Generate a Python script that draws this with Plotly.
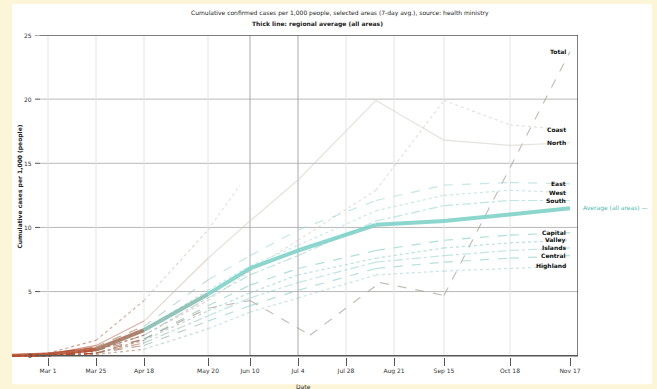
import plotly.graph_objects as go

# ---- data -------------------------------------------------------------
days = [0, 18, 42, 66, 98, 119, 143, 182, 216, 249, 279]

tick_days = [18, 42, 66, 98, 119, 143, 167, 191, 216, 249, 279]
tick_text = ["Mar 1", "Mar 25", "Apr 18", "May 20", "Jun 10", "Jul 4",
             "Jul 28", "Aug 21", "Sep 15", "Oct 18", "Nov 17"]

y_ticks = [0, 5, 10, 15, 20, 25]

avg_name = "Average (all areas) &#8212;"
avg_vals = [0, 0.1, 0.5, 2.0, 4.8, 6.8, 8.2, 10.2, 10.5, 11.0, 11.5]

total_days = [0, 18, 42, 66, 98, 119, 149, 184, 216, 279]
total_vals = [0, 0, 0.2, 1.3, 3.7, 4.3, 1.6, 5.7, 4.7, 23.7]

steep_days = [0, 18, 42, 66, 98, 114]
steep_vals = [0, 0.2, 1.2, 4.3, 9.8, 13.3]

north_vals = [0, 0.1, 0.8, 2.7, 7.6, 10.5, 13.7, 19.9, 16.8, 16.4, 16.6]
coast_vals = [0, 0, 0.4, 1.6, 4.3, 6.6, 9.0, 12.9, 19.9, 18.0, 17.6]
east_vals = [0, 0.1, 0.7, 2.3, 5.9, 7.8, 9.8, 12.1, 13.3, 13.5, 13.4]
west_vals = [0, 0, 0.5, 2.0, 5.1, 7.0, 8.6, 11.3, 12.5, 12.9, 12.7]
south_vals = [0, 0, 0.4, 1.6, 4.5, 6.3, 7.8, 10.5, 11.7, 12.1, 12.1]
capital_vals = [0, 0, 0.4, 1.3, 3.9, 5.5, 6.8, 8.2, 9.0, 9.4, 9.6]
valley_vals = [0, 0, 0.2, 1.2, 3.5, 4.9, 6.3, 7.6, 8.4, 8.8, 9.0]
islands_vals = [0, 0, 0.2, 1.0, 3.1, 4.5, 5.7, 7.3, 7.8, 8.2, 8.4]
central_vals = [0, 0, 0.2, 0.8, 2.7, 3.9, 5.1, 6.8, 7.3, 7.6, 7.8]
highland_vals = [0, 0, 0.1, 0.5, 2.1, 3.4, 4.5, 6.3, 6.6, 6.8, 7.0]

# (label, x, y, end colour, dash, opacity)
series = [
    ("Total", total_days, total_vals, "#a9a49c", "dash", 0.7),
    (None, steep_days, steep_vals, "#d6cdc2", "dot", 0.55),
    ("North", days, north_vals, "#d2cdc4", "solid", 0.55),
    ("Coast", days, coast_vals, "#d6d0c6", "dot", 0.6),
    ("East", days, east_vals, "#9fdad3", "dash", 0.6),
    ("West", days, west_vals, "#a6dcd5", "dot", 0.6),
    ("South", days, south_vals, "#96d6ce", "dashdot", 0.6),
    ("Capital", days, capital_vals, "#86cfc6", "dash", 0.65),
    ("Valley", days, valley_vals, "#92d3cb", "dot", 0.65),
    ("Islands", days, islands_vals, "#9ad6cf", "dashdot", 0.6),
    ("Central", days, central_vals, "#8ed1c9", "dash", 0.65),
    ("Highland", days, highland_vals, "#a2d8d1", "dot", 0.6),
]

EARLY = (176, 78, 48)  # brownish start colour


def hex_rgb(h):
    h = h.lstrip("#")
    return tuple(int(h[i:i + 2], 16) for i in (0, 2, 4))


def blend(c_end, d):
    t = min(max((d - 40) / 50.0, 0.0), 1.0)
    r, g, b = (round(a + (e - a) * t) for a, e in zip(EARLY, hex_rgb(c_end)))
    return f"rgb({r},{g},{b})"


fig = go.Figure()


def add_gradient_line(xs, ys, end_col, dash, width, opacity):
    for i in range(len(xs) - 1):
        mid = (xs[i] + xs[i + 1]) / 2
        fig.add_trace(go.Scatter(
            x=[xs[i], xs[i + 1]], y=[ys[i], ys[i + 1]], mode="lines",
            line=dict(color=blend(end_col, mid), width=width, dash=dash),
            opacity=opacity, showlegend=False, hoverinfo="skip"))


for name, xs, ys, col, dash, op in series:
    add_gradient_line(xs, ys, col, dash, 1.2, op)

add_gradient_line(days, avg_vals, "#78d0c6", "solid", 4, 0.85)

# ---- frame, grid and ticks --------------------------------------------
X0, X1 = 14, 283
shapes = [dict(type="rect", xref="paper", yref="paper", x0=0, x1=1.131,
               y0=-0.085, y1=1.096, fillcolor="white", line_width=0,
               layer="below")]
for v in y_ticks[1:-1]:
    shapes.append(dict(type="line", x0=X0, x1=X1, y0=v, y1=v,
                       line=dict(color="#b8b8b8", width=1), layer="below"))
for d in tick_days[:-1]:
    dark = d in (119, 143)
    shapes.append(dict(type="line", x0=d, x1=d, y0=0, y1=25,
                       line=dict(color="#a8a8a8" if dark else "#e4e4e4",
                                 width=1), layer="below"))
for v in y_ticks:
    shapes.append(dict(type="line", x0=11.5, x1=X0, y0=v, y1=v,
                       line=dict(color="#555", width=1)))
shapes += [
    dict(type="line", x0=X0, x1=X1, y0=25, y1=25, line=dict(color="#555", width=1.5)),
    dict(type="line", x0=X0, x1=X1, y0=0, y1=0, line=dict(color="#555", width=1.5)),
    dict(type="line", x0=X1, x1=X1, y0=0, y1=25, line=dict(color="#555", width=1.5)),
]

annotations = []
for v in y_ticks:
    annotations.append(dict(x=11, y=v, xref="x", yref="y", text=str(v),
                            showarrow=False, xanchor="right",
                            font=dict(size=6, color="#333")))

for name, xs, ys, col, dash, op in series:
    if name:
        annotations.append(dict(x=xs[-1], y=ys[-1], xref="x", yref="y",
                                text=f"<b>{name}</b>", showarrow=False,
                                xanchor="right", xshift=-2,
                                font=dict(size=6, color="#111")))
annotations.append(dict(x=X1, y=avg_vals[-1], xref="x", yref="y",
                        text=avg_name, showarrow=False, xanchor="left",
                        xshift=3, font=dict(size=6, color="#4fb8ad")))

annotations += [
    dict(x=0.58, y=1.0, xref="paper", yref="paper", yanchor="bottom", yshift=16,
         text="Cumulative confirmed cases per 1,000 people, selected areas (7-day avg.), source: health ministry",
         showarrow=False, font=dict(size=6, color="#222")),
    dict(x=0.54, y=1.0, xref="paper", yref="paper", yanchor="bottom", yshift=5,
         text="<b>Thick line: regional average (all areas)</b>",
         showarrow=False, font=dict(size=6, color="#222")),
    dict(x=0.004, y=0.53, xref="paper", yref="paper", textangle=-90,
         text="<b>Cumulative cases per 1,000 (people)</b>", showarrow=False,
         font=dict(size=6, color="#222")),
    dict(x=0.515, y=0, xref="paper", yref="paper", yanchor="top", yshift=-24,
         text="Date", showarrow=False, font=dict(size=6, color="#222")),
]

fig.update_layout(
    width=657, height=389,
    margin=dict(l=12, r=79, t=35, b=32),
    paper_bgcolor="#fdf5d8", plot_bgcolor="white",
    font=dict(family="DejaVu Sans", size=6, color="#333"),
    shapes=shapes, annotations=annotations, showlegend=False,
    xaxis=dict(range=[0, 283], tickvals=tick_days, ticktext=tick_text,
               ticks="outside", ticklen=8, tickcolor="#555",
               showgrid=False, zeroline=False, showline=False,
               tickfont=dict(size=6, color="#333")),
    yaxis=dict(range=[-0.1, 25], showgrid=False, zeroline=False,
               showticklabels=False, showline=False),
)

fig.write_html("out.html")
